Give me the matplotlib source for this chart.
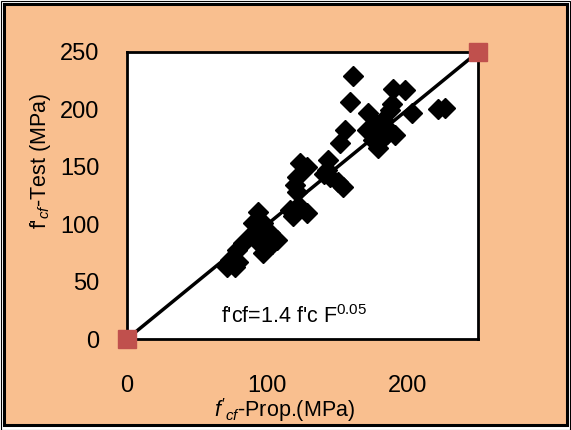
import matplotlib.pyplot as plt
import matplotlib.patches as patches
from matplotlib import font_manager

# Data (f'cf proposed vs test, MPa)
prop = [160.7, 158.8, 189.7, 198.0, 171.9, 188.5, 202.8, 221.7, 226.5, 155.3,
        151.7, 170.7, 177.8, 185.0, 190.9, 179.0, 175.4, 182.6, 187.3, 181.0,
        143.4, 142.2, 144.6, 154.0, 150.5, 140.0, 123.2, 128.0, 120.8, 119.7,
        120.8, 116.0, 123.2, 128.0, 118.0, 93.5, 90.0, 97.0, 101.9, 93.5,
        106.6, 99.5, 97.0, 103.0, 89.9, 92.2, 82.8, 78.0, 73.4, 79.3,
        71.0, 77.0, 95.0, 100.0, 186.0, 176.0]
test = [229.0, 206.7, 217.5, 217.0, 197.0, 205.0, 197.0, 200.0, 201.0, 182.0,
        170.5, 182.0, 186.0, 179.0, 177.7, 166.0, 173.0, 190.8, 199.5, 173.0,
        156.0, 147.0, 141.0, 132.7, 137.0, 144.0, 153.0, 150.0, 141.4, 134.0,
        128.3, 112.4, 115.0, 109.4, 107.0, 111.0, 100.7, 100.7, 92.0, 92.0,
        86.2, 80.4, 74.6, 83.0, 92.0, 86.0, 83.3, 77.5, 68.8, 67.3,
        63.0, 63.0, 96.0, 88.0, 183.0, 180.0]
line_x = [0, 250]
line_y = [0, 250]

names = {f.name for f in font_manager.fontManager.ttflist}
fam = 'Liberation Sans Narrow' if 'Liberation Sans Narrow' in names else 'Liberation Sans'
plt.rcParams['font.family'] = [fam, 'DejaVu Sans']
plt.rcParams['mathtext.fontset'] = 'custom'
plt.rcParams['mathtext.rm'] = fam
plt.rcParams['mathtext.it'] = fam + ':italic'

orange = '#F9BF8F'
fig = plt.figure(figsize=(5.71, 4.30), dpi=100, facecolor='white')

# double frame round the chart
fig.patches.append(patches.Rectangle((0.5 / 571, 0.5 / 430), 569.5 / 571, 428.5 / 430,
                                     transform=fig.transFigure, fill=False,
                                     edgecolor='black', linewidth=0.8, zorder=-10))
fig.patches.append(patches.Rectangle((4 / 571, 5 / 430), 563 / 571, 421 / 430,
                                     transform=fig.transFigure, facecolor=orange,
                                     edgecolor='black', linewidth=2.2, zorder=-9))

ax = fig.add_axes([127 / 571, (430 - 339) / 430, (478 - 127) / 571, (339 - 52) / 430])
ax.set_facecolor('white')

ax.plot(line_x, line_y, color='black', linewidth=2.5, zorder=3)
ax.plot(prop, test, linestyle='none', marker='D', markersize=10.5,
        color='black', zorder=4)
ax.plot(line_x, line_y, linestyle='none', marker='s', markersize=13.5,
        color='#C0504D', zorder=5, clip_on=False)

ax.set_xlim(0, 250)
ax.set_ylim(0, 250)
ax.set_xticks([0, 100, 200])
ax.set_yticks([0, 50, 100, 150, 200, 250])
ax.tick_params(length=0, labelsize=17, pad=20)
ax.tick_params(axis='x', pad=26)
for s in ax.spines.values():
    s.set_linewidth(2)
    s.set_color('black')

ax.set_ylabel(r"f'$_{cf}$-Test (MPa)", fontsize=15.5)
ax.yaxis.set_label_coords(-0.21, 0.62)
ax.set_xlabel(r"$f'_{cf}$-Prop.(MPa)", fontsize=15.5)
ax.xaxis.set_label_coords(0.45, -0.2)

ax.text(67, 14, r"f'cf=1.4 f'c F$^{0.05}$", fontsize=15.5)

fig.savefig('out.png', dpi=100, facecolor='white')
